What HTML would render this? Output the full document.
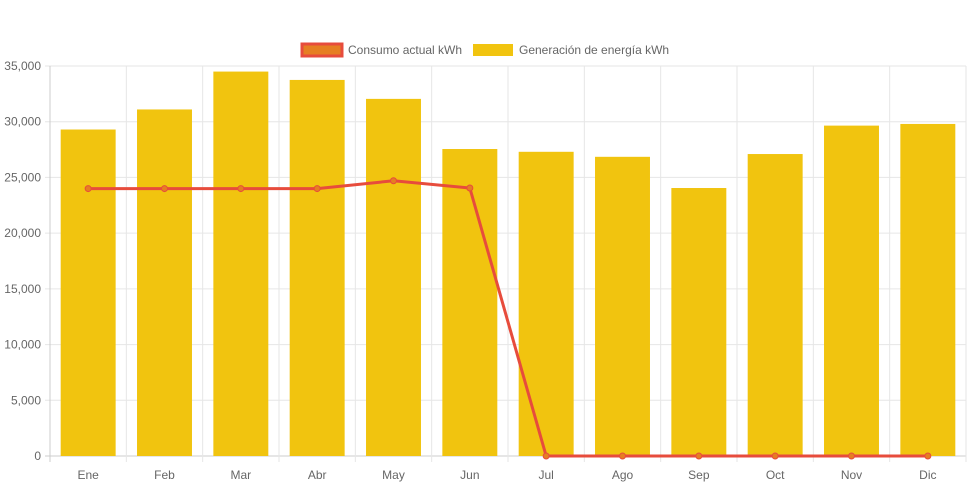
<!DOCTYPE html>
<html><head><meta charset="utf-8"><style>
html,body{margin:0;padding:0;background:#fff;}
svg{display:block;font-family:"Liberation Sans",sans-serif;}
</style></head><body>
<svg id="chart" width="971" height="485"></svg>
<script>
const categories=["Ene","Feb","Mar","Abr","May","Jun","Jul","Ago","Sep","Oct","Nov","Dic"];
const generation=[29300,31100,34500,33750,32050,27550,27300,26850,24050,27100,29650,29800];
const consumption=[24000,24000,24000,24000,24700,24050,0,0,0,0,0,0];
const yTicks=[0,5000,10000,15000,20000,25000,30000,35000];
const yTickLabels=["0","5,000","10,000","15,000","20,000","25,000","30,000","35,000"];
const NS="http://www.w3.org/2000/svg";
const svg=document.getElementById('chart');
const L=50,R=966,T=66,B=456,yMax=35000;
const cw=(R-L)/categories.length;
const x=i=>L+cw*(i+0.5);
const y=v=>B-(v/yMax)*(B-T);
function el(t,a,p){const e=document.createElementNS(NS,t);for(const k in a)e.setAttribute(k,a[k]);(p||svg).appendChild(e);return e;}
// grid
yTicks.forEach((v,i)=>{
 const g=el('line',{x1:L-5,x2:R,y1:y(v),y2:y(v),stroke:i==0?'#ccc':'#e6e6e6','stroke-width':1});
 
 
 const t=el('text',{x:L-9,y:y(v)+4,'text-anchor':'end','font-size':12,fill:'#666'});
 t.textContent=yTickLabels[i];
 
 
});
for(let i=0;i<=categories.length;i++){
 const g=el('line',{x1:L+cw*i,x2:L+cw*i,y1:T,y2:B+6,stroke:i==0?'#ccc':'#e6e6e6','stroke-width':1});
 
 
}
categories.forEach((c,i)=>{
 const t=el('text',{x:x(i),y:479,'text-anchor':'middle','font-size':12,fill:'#666'});
 t.textContent=c;
 
 
});
const bw=cw*0.72;
generation.forEach((v,i)=>{
 const r=el('rect',{x:x(i)-bw/2,y:y(v),width:bw,height:B-y(v),fill:'#f1c40f'});
 
 
});
const pl=el('polyline',{points:consumption.map((v,i)=>x(i)+','+y(v)).join(' '),fill:'none',stroke:'#e74c3c','stroke-width':3});


consumption.forEach((v,i)=>{
 const c=el('circle',{cx:x(i),cy:y(v),r:3,fill:'#e67e22',stroke:'#e74c3c','stroke-width':1});
 
 
});
// legend
const lg=el('g',{});


const r1=el('rect',{x:302,y:44,width:40,height:12,fill:'#e67e22',stroke:'#e74c3c','stroke-width':3},lg);


const t1=el('text',{x:348,y:54,'font-size':12,fill:'#666'},lg);t1.textContent='Consumo actual kWh';


const r2=el('rect',{x:473,y:44,width:40,height:12,fill:'#f1c40f'},lg);


const t2=el('text',{x:519,y:54,'font-size':12,fill:'#666'},lg);t2.textContent='Generación de energía kWh';


</script>
</body></html>
